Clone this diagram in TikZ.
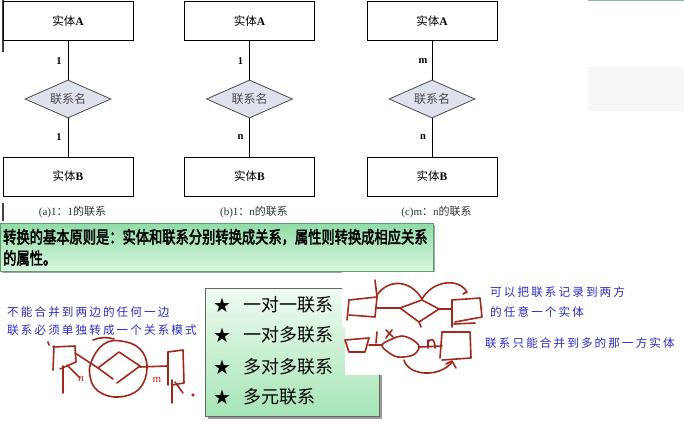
\documentclass[tikz,border=0pt]{standalone}
\usepackage{fontspec}
\setmainfont{Liberation Serif}
\newfontfamily\cjk{Noto Sans CJK SC}
\newfontfamily\cjkb[FakeBold=3]{Noto Sans CJK SC}
\newfontfamily\cjkblue[LetterSpace=18]{Noto Sans CJK SC}
\newfontfamily\symf{DejaVu Sans}
\usetikzlibrary{shapes.geometric}
\definecolor{hand}{HTML}{A3281C}
\definecolor{handred}{HTML}{E02020}
\definecolor{bluetxt}{HTML}{2B2BC8}
\definecolor{bantop}{HTML}{8FDCA6}
\definecolor{banbot}{HTML}{D9F6DF}
\definecolor{bandraw}{HTML}{5E9E70}
\definecolor{listtop}{HTML}{F0FBF2}
\definecolor{listbot}{HTML}{A6E5B6}
\definecolor{dia}{HTML}{DEE2EC}
\definecolor{capgray}{HTML}{333333}
\tikzset{
  ent/.style={draw=black, line width=1pt, minimum width=130pt, minimum height=39pt, inner sep=0pt,
              font=\fontsize{11.5}{13}\selectfont},
  rel/.style={diamond, draw=black!70, fill=dia, line width=0.8pt, minimum width=86pt, minimum height=38pt,
              aspect=2.3, inner sep=0pt, text=black!70, font=\cjk\fontsize{12}{14}\selectfont},
  conn/.style={draw=black, line width=1pt},
  card/.style={font=\fontsize{10.5}{12}\selectfont\bfseries, inner sep=0pt},
  capt/.style={text=capgray, font=\fontsize{11}{13}\selectfont, inner sep=0pt},
  hand/.style={draw=hand, line width=1.6pt, line cap=round, line join=round},
  bluenote/.style={text=bluetxt, anchor=west, inner sep=0pt, font=\cjkblue\fontsize{11.6}{13}\selectfont},
  listitem/.style={anchor=west, inner sep=0pt, font=\cjk\fontsize{18}{20}\selectfont},
  staritem/.style={inner sep=0pt, font=\symf\fontsize{20}{22}\selectfont},
  bantext/.style={anchor=west, inner sep=0pt},
  redlabel/.style={text=handred, inner sep=0pt, font=\fontsize{11}{12}\selectfont}
}
\begin{document}
\begin{tikzpicture}[x=1pt,y=-1pt]
\useasboundingbox (0,0) rectangle (684,422);
\fill[white] (0,0) rectangle (684,422);

% faint screen remnants top right
\fill[bandraw!70] (588,0) rectangle (684,1.5);
\fill[black!3] (588,67) rectangle (684,111);

% left edge marks
\draw[black!75, line width=1.3pt] (3,0) -- (3,52);
\draw[black!75, line width=1.3pt] (3,203) -- (3,221);

% ===== ER diagrams =====
\foreach \cx/\nm/\ca/\cb/\capt in {68/a/1/1/{(a)1{\cjk ：}1{\cjk 的联系}},
                                   249.5/b/1/n/{(b)1{\cjk ：}n{\cjk 的联系}},
                                   432/c/m/n/{(c)m{\cjk ：}n{\cjk 的联系}}}{
  \node[ent] (A\nm) at (\cx,21.5) {{\cjk 实体}\textbf{A}};
  \node[rel] (R\nm) at (\cx,99) {联系名};
  \node[ent] (B\nm) at (\cx,176.5) {{\cjk 实体}\textbf{B}};
  \draw[conn] (A\nm) -- (R\nm);
  \draw[conn] (R\nm) -- (B\nm);
  \node[card] (ca\nm) at (\cx-9,61) {\ca};
  \node[card] (cb\nm) at (\cx-9,137) {\cb};
  \node[capt] (cap\nm) at (\cx+4.5,212) {\capt};
}

% ===== banner =====
\fill[black!35] (2,225) rectangle (435,273);
\shade[top color=bantop, bottom color=banbot, draw=bandraw, line width=0.8pt] (0,223) rectangle (433,271);
\node[bantext] (ban1) at (3,237) {\scalebox{0.78}[1]{\cjkb\fontsize{17}{20}\selectfont 转换的基本原则是：实体和联系分别转换成关系，属性则转换成相应关系}};
\node[bantext] (ban2) at (3,258) {\scalebox{0.78}[1]{\cjkb\fontsize{17}{20}\selectfont 的属性。}};

% ===== list box =====
\fill[black!40] (208,291) rectangle (382,419);
\shade[top color=listtop, bottom color=listbot, draw=black!60, line width=0.8pt] (205,288) rectangle (379,416);
\fill[white] (342,272) rectangle (620,327);
\fill[white] (345,327) rectangle (620,375);
\foreach \yy/\tx/\k in {305/一对一联系/1, 335/一对多联系/2, 367/多对多联系/3, 397/多元联系/4}{
  \node[staritem] (s\k) at (222,\yy) {★};
  \node[listitem] (l\k) at (243,\yy) {\tx};
}

% ===== blue notes =====
\node[bluenote] (n1) at (7,312) {不能合并到两边的任何一边};
\node[bluenote] (n2) at (7,330) {联系必须单独转成一个关系模式};
\node[bluenote] (n3) at (490,292) {可以把联系记录到两方};
\node[bluenote] (n4) at (490,312) {的任意一个实体};
\node[bluenote] (n5) at (485,343) {联系只能合并到多的那一方实体};

% ===== hand drawing: left (m:n) =====
\draw[hand] (48,342) -- (49,345);
\draw[hand] (53,347) -- (75,346) -- (76,362) -- (60,369);
\draw[hand] (54,346) -- (53,370);
\draw[hand] (63,366) -- (63,393);
\draw[hand] (67,365) -- (80,378);
\draw[hand] (75,353) -- (98,368);
\draw[hand] plot[smooth cycle, tension=0.7] coordinates {(92,360) (104,344) (121,341) (140,349) (147,368) (139,389) (118,397) (98,391) (90,376)};
\draw[hand] (93,340) .. controls (100,337) and (108,337) .. (114,339);
\draw[hand] (98,368) -- (119,352) -- (140,366) -- (117,383);
\draw[hand] (98,368) -- (113,379);
\draw[hand] (140,367) -- (167,366);
\draw[hand] (168,352) -- (183,350) -- (184,383) -- (172,385);
\draw[hand] (168,352) -- (168,385);
\draw[hand] (172,380) -- (172,403);
\draw[hand] (175,382) -- (183,393);
\fill[hand] (193,395) circle (0.9);
\node[redlabel] (ln) at (81,379) {n};
\node[redlabel] (lm) at (157,380) {m};

% ===== hand drawing: right top (1:1) =====
\draw[hand] (375,280) -- (377,297);
\draw[hand] (349,300) -- (377,297) -- (375,317) -- (349,315);
\draw[hand] (349,300) -- (347,320);
\draw[hand] (377,295) .. controls (388,279) and (410,279) .. (422,299);
\draw[hand] (422,299) .. controls (432,281) and (458,277) .. (467,292) -- (463,294);
\draw[hand] (377,308) -- (400,308);
\draw[hand] (400,308) -- (422,300) -- (439,309) -- (419,322) -- cycle;
\draw[hand] (419,322) -- (421,327);
\draw[hand] (439,309) -- (452,309);
\draw[hand] (452,300) -- (452,327);
\draw[hand] (452,300) -- (480,298) -- (482,317) -- (455,322);
\draw[hand] (454,324) -- (475,323);

% ===== hand drawing: right bottom (1:n) =====
\draw[hand] (345,340) -- (369,338) -- (365,352) -- (349,352) -- cycle;
\draw[hand] (369,345) -- (382,345);
\draw[hand] (377,332) -- (376,343);
\draw[hand] (386,330) -- (393,337);
\draw[hand] (392,330) .. controls (389,333) and (388,336) .. (386,338);
\draw[hand] plot[smooth cycle, tension=0.6] coordinates {(382,345) (392,339) (402,336) (413,340) (419,347) (413,355) (398,357) (388,352)};
\draw[hand] (419,347) -- (442,346);
\draw[hand] (428,340) -- (428,348);
\draw[hand] (428,342) .. controls (431,338) and (435,338) .. (435,348);
\draw[hand] (442,332) -- (470,332) -- (471,358) -- (442,360);
\draw[hand] (442,332) -- (440,358);
\draw[hand] (404,360) .. controls (408,376) and (440,378) .. (452,362);
\draw[hand] (446,364) -- (452,361) -- (456,368);
\end{tikzpicture}
\end{document}
